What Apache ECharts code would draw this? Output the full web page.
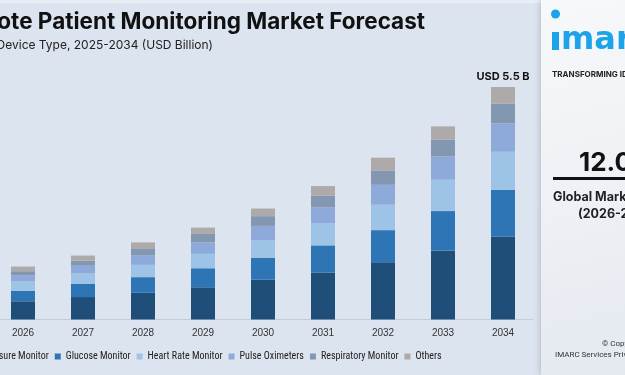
<!DOCTYPE html>
<html>
<head>
<meta charset="utf-8">
<script src="https://cdn.jsdelivr.net/npm/echarts@6/dist/echarts.min.js"></script>
<style>
  html, body { margin: 0; padding: 0; overflow: hidden; background: #dce4f0; width: 625px; height: 375px; position: relative; }
  /* the picture is a crop: the chart starts left of the window */
  #chart { position: absolute; left: -150px; top: 0; width: 775px; height: 375px; }
</style>
</head>
<body>
<div id="chart"></div>
<script>
// years and segment values (USD Billion)
var years = ["2025", "2026", "2027", "2028", "2029", "2030", "2031", "2032", "2033", "2034"];
var bloodPressure = [0.36, 0.43, 0.53, 0.63, 0.76, 0.94, 1.11, 1.35, 1.63, 1.96];
var glucose       = [0.21, 0.25, 0.31, 0.37, 0.45, 0.52, 0.64, 0.76, 0.93, 1.10];
var heartRate     = [0.18, 0.22, 0.25, 0.29, 0.34, 0.41, 0.52, 0.60, 0.74, 0.90];
var pulseOxi      = [0.12, 0.14, 0.18, 0.23, 0.27, 0.34, 0.38, 0.47, 0.55, 0.67];
var respiratory   = [0.09, 0.10, 0.12, 0.16, 0.20, 0.23, 0.27, 0.34, 0.40, 0.47];
var others        = [0.08, 0.11, 0.12, 0.14, 0.15, 0.18, 0.23, 0.30, 0.31, 0.39];

var segments = [
  { name: "Blood Pressure Monitor", data: bloodPressure, color: "#1f4e79" },
  { name: "Glucose Monitor", data: glucose, color: "#2e75b6" },
  { name: "Heart Rate Monitor", data: heartRate, color: "#9dc3e6" },
  { name: "Pulse Oximeters", data: pulseOxi, color: "#8eaadb" },
  { name: "Respiratory Monitor", data: respiratory, color: "#8497b0" },
  { name: "Others", data: others, color: "#aeaaaa" }
];

var last = years.length - 1;
var lastTotal = 0;
segments.forEach(function (s) { lastTotal += s.data[last]; });

var OX = 150; // horizontal offset of the chart div
var legendFont = "'Roboto Condensed', 'DejaVu Sans Condensed', 'Liberation Sans Narrow', Roboto";

var chart = echarts.init(document.getElementById("chart"));

var seriesData = segments.map(function (s, idx) {
  var isTop = idx === segments.length - 1;
  return {
    name: s.name,
    type: "bar",
    stack: "total",
    barWidth: 24,
    itemStyle: { color: s.color },
    label: {
      show: isTop,
      position: "top",
      distance: 5,
      color: "#111",
      fontFamily: "Inter",
      fontWeight: "bold",
      fontSize: 11,
      formatter: function (p) {
        return p.dataIndex === last ? "USD " + lastTotal.toFixed(1) + " B" : "";
      }
    },
    data: s.data
  };
});

var option = {
  backgroundColor: "#dce4f0",
  animation: false,
  grid: { left: OX - 67, right: 92, top: 23, bottom: 55.5 },
  legend: {
    left: OX - 60,
    top: 346.5,
    itemWidth: 6,
    itemHeight: 6,
    itemGap: 6,
    icon: "rect",
    textStyle: { color: "#222", fontSize: 10, fontFamily: legendFont },
    data: segments.map(function (s) { return s.name; })
  },
  xAxis: {
    type: "category",
    data: years,
    axisLine: { lineStyle: { color: "#c3ccd9" } },
    axisTick: { show: false },
    axisLabel: { color: "#333", fontSize: 10, margin: 9, fontFamily: "Liberation Sans" }
  },
  yAxis: {
    type: "value",
    min: 0,
    max: 7,
    show: false
  },
  graphic: [
    { type: "rect", shape: { x: 0, y: 0, width: 775, height: 3 }, style: { fill: "#e9eef6" }, z: -1 },
    {
      type: "text", x: OX + 425, y: 22,
      style: {
        text: "Remote Patient Monitoring Market Forecast",
        align: "right", verticalAlign: "middle",
        font: "bold 22.5px Inter", fill: "#111"
      }
    },
    {
      type: "text", x: OX + 213, y: 45,
      style: {
        text: "By Device Type, 2025-2034 (USD Billion)",
        align: "right", verticalAlign: "middle",
        font: "12px Inter", fill: "#222"
      }
    },
    {
      type: "rect",
      shape: { x: OX + 541, y: 0, width: 90, height: 375 },
      style: {
        fill: new echarts.graphic.LinearGradient(0, 0, 1, 1, [
          { offset: 0, color: "#f7f8fa" },
          { offset: 0.5, color: "#eef1f5" },
          { offset: 1, color: "#e4e9f0" }
        ]),
        shadowBlur: 6,
        shadowColor: "rgba(0,0,0,0.18)",
        shadowOffsetX: -1
      },
      z: 5
    },
    // imarc logo: dotted i plus a wide "marc"
    { type: "circle", z: 6, shape: { cx: OX + 555.5, cy: 14, r: 4.5 }, style: { fill: "#1ca3ea" } },
    { type: "rect", z: 6, shape: { x: OX + 552, y: 32, width: 7, height: 18 }, style: { fill: "#1ca3ea" } },
    {
      type: "text", x: OX + 561, y: 57, z: 6,
      style: { text: "marc", align: "left", verticalAlign: "bottom", font: "bold 32px 'DejaVu Sans'", fill: "#1ca3ea" }
    },
    {
      type: "text", x: OX + 552, y: 75, z: 6,
      style: { text: "TRANSFORMING IDEAS INTO IMPACT", align: "left", verticalAlign: "middle", font: "bold 8px Inter", fill: "#222" }
    },
    {
      type: "text", x: OX + 579, y: 163, z: 6,
      style: { text: "12.0%", align: "left", verticalAlign: "middle", font: "bold 26px Inter", fill: "#111" }
    },
    { type: "rect", z: 6, shape: { x: OX + 553, y: 177, width: 80, height: 3 }, style: { fill: "#111" } },
    {
      type: "text", x: OX + 553, y: 197, z: 6,
      style: { text: "Global Market Growth Rate", align: "left", verticalAlign: "middle", font: "bold 12.5px Inter", fill: "#222" }
    },
    {
      type: "text", x: OX + 578, y: 214, z: 6,
      style: { text: "(2026-2034)", align: "left", verticalAlign: "middle", font: "bold 12.5px Inter", fill: "#222" }
    },
    {
      type: "text", x: OX + 602, y: 344, z: 6,
      style: { text: "© Copyright", align: "left", verticalAlign: "middle", font: "8px Roboto", fill: "#333" }
    },
    {
      type: "text", x: OX + 555, y: 355, z: 6,
      style: { text: "IMARC Services Private Limited", align: "left", verticalAlign: "middle", font: "8px Roboto", fill: "#333" }
    }
  ],
  series: seriesData
};

chart.setOption(option);
</script>
</body>
</html>
